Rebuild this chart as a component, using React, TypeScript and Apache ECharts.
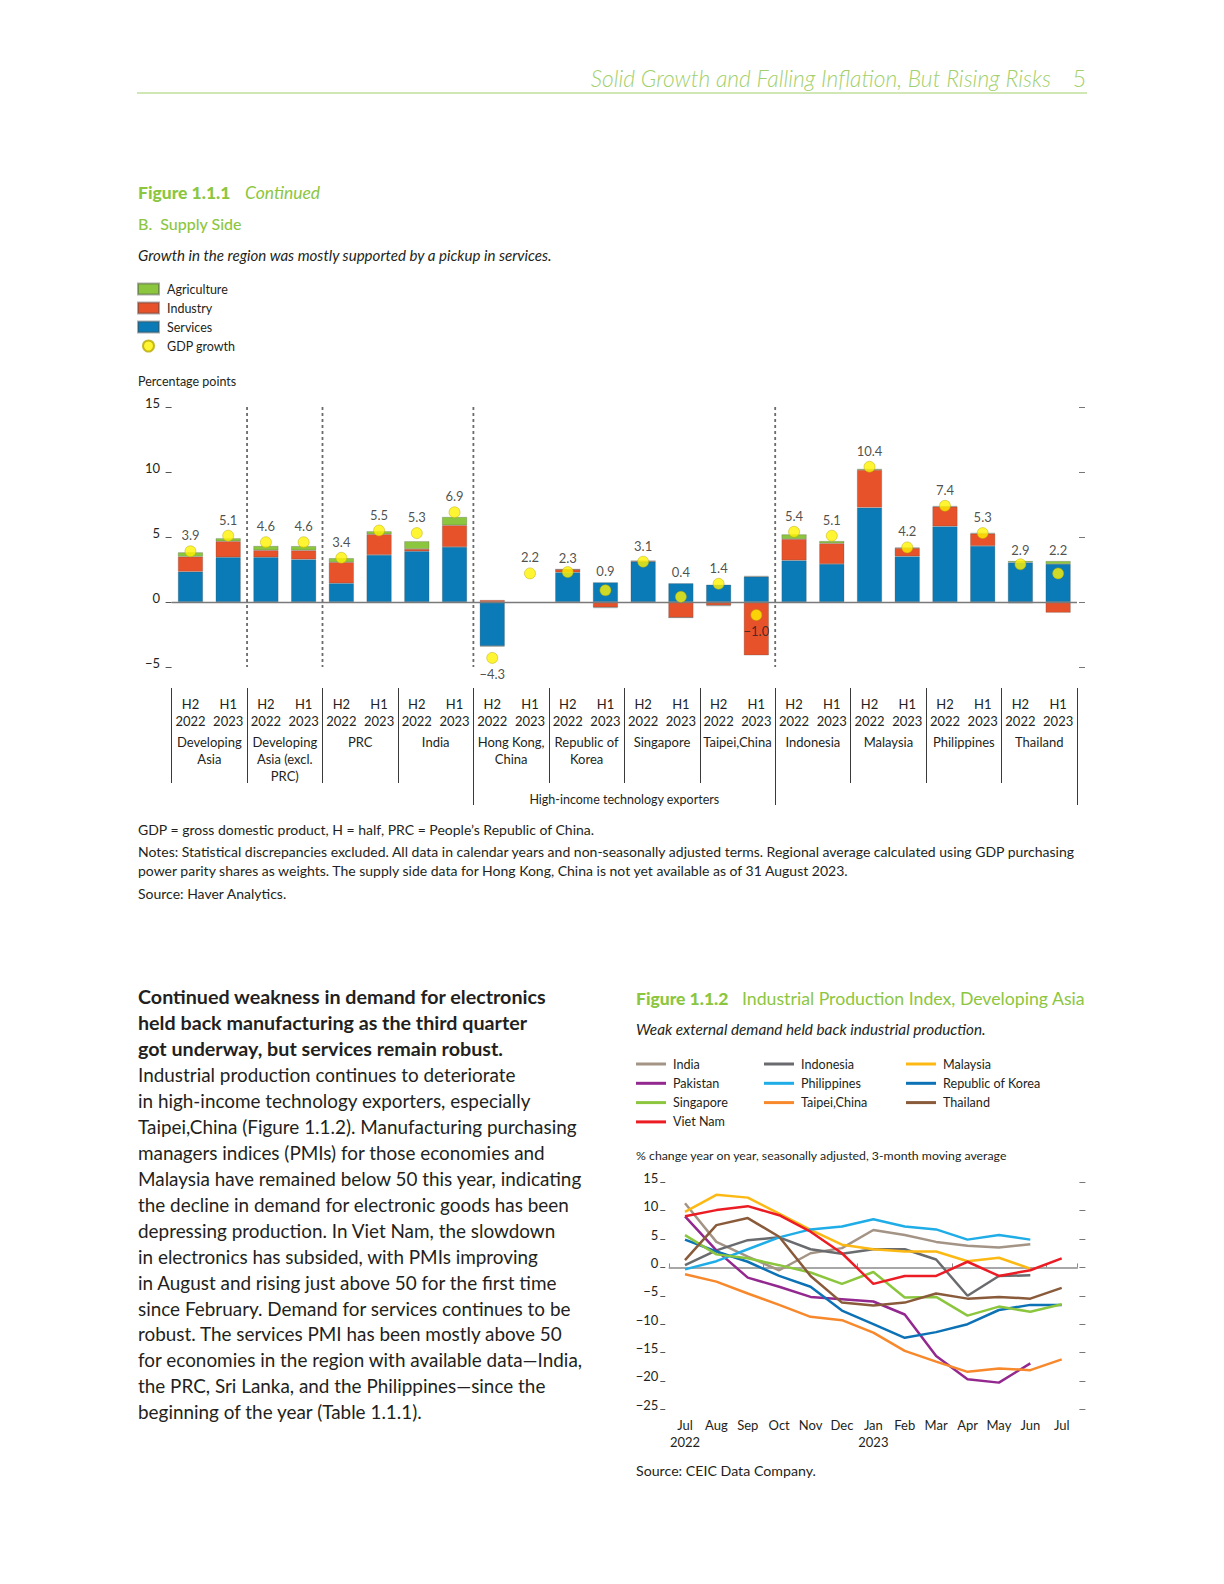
import React, { useEffect, useRef } from "react";
import * as echarts from "echarts";

// ---------- Figure 1.1.1 data ----------
const periods = [
  "H2\n2022", "H1\n2023", "H2\n2022", "H1\n2023", "H2\n2022", "H1\n2023",
  "H2\n2022", "H1\n2023", "H2\n2022", "H1\n2023", "H2\n2022", "H1\n2023",
  "H2\n2022", "H1\n2023", "H2\n2022", "H1\n2023", "H2\n2022", "H1\n2023",
  "H2\n2022", "H1\n2023", "H2\n2022", "H1\n2023", "H2\n2022", "H1\n2023",
];
const economies = [
  "Developing\nAsia", "Developing\nAsia (excl.\nPRC)", "PRC", "India",
  "Hong Kong,\nChina", "Republic of\nKorea", "Singapore", "Taipei,China",
  "Indonesia", "Malaysia", "Philippines", "Thailand",
];
const economyGroups = ["", "High-income technology exporters", ""];
const services = [2.33, 3.44, 3.44, 3.28, 1.44, 3.62, 3.9, 4.23, -3.38, null, 2.28, 1.51, 3.1, 1.44, 1.33, 1.95, 3.2, 2.92, 7.26, 3.51, 5.82, 4.31, 3.05, 2.92];
const industry = [1.16, 1.23, 0.54, 0.69, 1.62, 1.59, 0.18, 1.67, 0.15, null, 0.23, -0.41, 0.05, -1.2, -0.26, -4.1, 1.64, 1.59, 2.9, 0.64, 1.51, 0.95, -0.1, -0.82];
const agriculture = [0.33, 0.23, 0.33, 0.33, 0.31, 0.23, 0.59, 0.64, -0.05, null, 0, -0.05, 0, 0, -0.05, 0.05, 0.36, 0.18, 0.08, 0.03, 0.05, 0.05, 0.1, 0.23];
const gdpGrowth = [3.9, 5.1, 4.6, 4.6, 3.4, 5.5, 5.3, 6.9, -4.3, 2.2, 2.3, 0.9, 3.1, 0.4, 1.4, -1.0, 5.4, 5.1, 10.4, 4.2, 7.4, 5.3, 2.9, 2.2];
const separators = [2, 4, 8, 16];

// ---------- Figure 1.1.2 data ----------
const months = ["Jul\n2022", "Aug", "Sep", "Oct", "Nov", "Dec", "Jan\n2023", "Feb", "Mar", "Apr", "May", "Jun", "Jul"];
const india = [11.3, 4.5, 1.9, -0.5, 2.5, 3.4, 6.6, 5.7, 4.5, 3.8, 3.5, 4.1, null];
const indonesia = [0.4, 3.0, 4.8, 5.3, 3.2, 2.4, 3.2, 3.2, 1.4, -5.0, -1.5, -1.4, null];
const malaysia = [9.8, 12.8, 12.3, 9.5, 6.6, 4.0, 3.2, 2.8, 2.8, 1.1, 1.7, -0.2, null];
const pakistan = [9.0, 3.0, -1.8, -3.4, -5.2, -5.6, -6.0, -8.3, -15.6, -19.7, -20.3, -16.9, null];
const philippines = [-0.35, 1.1, 3.2, 5.3, 6.7, 7.2, 8.5, 7.2, 6.7, 4.9, 5.7, 4.9, null];
const korea = [4.9, 2.8, 1.0, -1.5, -3.4, -7.6, -10.0, -12.4, -11.4, -10.0, -7.5, -6.6, -6.6];
const singapore = [5.7, 2.3, 1.6, 0.4, -0.9, -2.9, -0.8, -5.3, -5.2, -8.5, -6.9, -7.8, -6.5];
const taipei = [-1.2, -2.5, -4.6, -6.6, -8.7, -9.3, -11.5, -14.7, -16.6, -18.4, -17.8, -18.1, -16.2];
const thailand = [1.3, 7.45, 8.7, 5.4, -1.5, -6.2, -6.7, -6.2, -4.6, -5.5, -5.2, -5.5, -3.6];
const vietnam = [9.0, 10.1, 10.8, 9.2, 6.3, 2.5, -2.9, -1.5, -1.5, 1.0, -1.5, -0.5, 1.6];

const lineSeries = [
  { name: "India", data: india, color: "#a39486" },
  { name: "Indonesia", data: indonesia, color: "#6a6b6e" },
  { name: "Malaysia", data: malaysia, color: "#fdb913" },
  { name: "Pakistan", data: pakistan, color: "#93288f" },
  { name: "Philippines", data: philippines, color: "#1fade8" },
  { name: "Republic of Korea", data: korea, color: "#0c72b5" },
  { name: "Singapore", data: singapore, color: "#8cc63f" },
  { name: "Taipei,China", data: taipei, color: "#f7892c" },
  { name: "Thailand", data: thailand, color: "#8a5b3b" },
  { name: "Viet Nam", data: vietnam, color: "#ec1c24" },
];

const FONT = "Lato";
const DARK = "#231f20";
const GREEN = "#8cc63f";
const LIGHTGREEN = "#a2d06c";
const minus = (v: any) => String(v).replace("-", "\u2212");

const paraHeading = [
  "Continued weakness in demand for electronics",
  "held back manufacturing as the third quarter",
  "got underway, but services remain robust.",
].join("\n");
const paraBody = [
  "Industrial production continues to deteriorate",
  "in high-income technology exporters, especially",
  "Taipei,China (Figure 1.1.2). Manufacturing purchasing",
  "managers indices (PMIs) for those economies and",
  "Malaysia have remained below 50 this year, indicating",
  "the decline in demand for electronic goods has been",
  "depressing production. In Viet Nam, the slowdown",
  "in electronics has subsided, with PMIs improving",
  "in August and rising just above 50 for the first time",
  "since February. Demand for services continues to be",
  "robust. The services PMI has been mostly above 50",
  "for economies in the region with available data\u2014India,",
  "the PRC, Sri Lanka, and the Philippines\u2014since the",
  "beginning of the year (Table 1.1.1).",
].join("\n");
const notes = [
  "GDP = gross domestic product, H = half, PRC = People\u2019s Republic of China.",
  "Notes: Statistical discrepancies excluded. All data in calendar years and non-seasonally adjusted terms. Regional average calculated using GDP purchasing",
  "power parity shares as weights. The supply side data for Hong Kong, China is not yet available as of 31 August 2023.",
  "Source: Haver Analytics.",
];

function txt(text: string, x: number, y: number, extra: any = {}) {
  return {
    type: "text",
    silent: true,
    style: {
      text, x, y,
      fontFamily: FONT, fontSize: 13, fill: DARK,
      align: "left", verticalAlign: "middle",
      ...extra,
    },
  };
}

export default function App() {
  const ref = useRef<HTMLDivElement>(null);
  useEffect(() => {
    if (!ref.current) return;
    const chart = echarts.init(ref.current, null, { renderer: "svg" });
    const axisLabelBase = { fontFamily: FONT, fontSize: 13, color: DARK };
    const barStyle = (color: string) => ({ color, borderColor: "rgba(70,70,70,0.45)", borderWidth: 0.6 });

    // label anchor: GDP value, lifted to the top of the positive stack when the dot sits inside a bar
    const labelAnchors = gdpGrowth.map((v, i) => {
      const top = [services[i], industry[i], agriculture[i]].reduce(
        (s: number, x: any) => s + (x != null && x > 0 ? x : 0), 0);
      const inside = v >= 0 && top > v + 0.15;
      return {
        value: inside ? top : v,
        name: minus(v.toFixed(1)),
        symbolSize: inside ? 1 : 11,
        label: { position: v < 0 ? "bottom" : "top" },
      };
    });

    const legendText = { fontFamily: FONT, fontSize: 12.6, lineHeight: 16, color: DARK, padding: [0, 0, 0, 2] };

    const option: any = {
      animation: false,
      textStyle: { fontFamily: FONT, color: DARK },
      grid: [
        { left: 171.6, right: 147, top: 407, bottom: 917 },
        { left: 669.3, right: 146.6, top: 1182.3, bottom: 174.7 },
      ],
      legend: [
        {
          orient: "vertical", left: 137, top: 281, padding: 0,
          itemWidth: 21, itemHeight: 11, itemGap: 3, selectedMode: false,
          textStyle: { ...legendText, fontSize: 12.5, padding: [0, 0, 0, 3] },
          data: [
            { name: "Agriculture", icon: "rect" },
            { name: "Industry", icon: "rect" },
            { name: "Services", icon: "rect" },
            { name: "GDP growth", icon: "circle" },
          ],
        },
        {
          orient: "vertical", left: 636, top: 1056, padding: 0,
          itemWidth: 30, itemHeight: 3, itemGap: 3.3, selectedMode: false,
          textStyle: legendText,
          data: ["India", "Pakistan", "Singapore", "Viet Nam"].map((n) => ({ name: n, icon: "rect" })),
        },
        {
          orient: "vertical", left: 764, top: 1056, padding: 0,
          itemWidth: 30, itemHeight: 3, itemGap: 3.3, selectedMode: false,
          textStyle: legendText,
          data: ["Indonesia", "Philippines", "Taipei,China"].map((n) => ({ name: n, icon: "rect" })),
        },
        {
          orient: "vertical", left: 906, top: 1056, padding: 0,
          itemWidth: 30, itemHeight: 3, itemGap: 3.3, selectedMode: false,
          textStyle: legendText,
          data: ["Malaysia", "Republic of Korea", "Thailand"].map((n) => ({ name: n, icon: "rect" })),
        },
      ],
      xAxis: [
        {
          type: "category", gridIndex: 0, data: periods, position: "bottom",
          axisLine: { show: false, onZero: false }, axisTick: { show: false },
          axisLabel: { ...axisLabelBase, interval: 0, margin: 28, lineHeight: 17 },
        },
        {
          type: "category", gridIndex: 0, data: economies, position: "bottom", offset: 21,
          axisLine: { show: false, onZero: false },
          axisTick: { show: true, interval: 0, length: 95, lineStyle: { color: "#3a3a3a", width: 1 } },
          axisLabel: { ...axisLabelBase, interval: 0, margin: 45.5, lineHeight: 17 },
        },
        {
          type: "category", gridIndex: 0, data: economyGroups, position: "bottom", offset: 116,
          axisLine: { show: false, onZero: false },
          axisTick: { show: true, interval: (i: number) => i > 0, length: 22, lineStyle: { color: "#3a3a3a", width: 1 } },
          axisLabel: { ...axisLabelBase, fontSize: 12.5, interval: 0, margin: 10 },
        },
        { type: "value", gridIndex: 0, min: 0, max: 24, show: false, position: "top" },
        {
          type: "category", gridIndex: 1, data: months, position: "bottom",
          axisLine: { show: true, onZero: true, lineStyle: { color: "#8a8a8a", width: 1.5 } },
          axisTick: { show: true, inside: true, interval: 2, length: 4, lineStyle: { color: "#8a8a8a", width: 1 } },
          axisLabel: { show: false },
        },
        {
          type: "category", gridIndex: 1, data: months, position: "bottom",
          axisLine: { show: false, onZero: false }, axisTick: { show: false },
          axisLabel: { ...axisLabelBase, interval: 0, margin: 7, lineHeight: 17 },
        },
      ],
      yAxis: [
        {
          type: "value", gridIndex: 0, min: -5, max: 15, interval: 5, position: "left", offset: 3,
          axisLine: { show: false }, splitLine: { show: false },
          axisTick: { show: true, length: 6, lineStyle: { color: "#555" } },
          axisLabel: { ...axisLabelBase, margin: 8.6, verticalAlign: "bottom", lineHeight: 9, formatter: minus },
        },
        {
          type: "value", gridIndex: 0, min: -5, max: 15, interval: 5, position: "right", offset: 2,
          axisLine: { show: false }, splitLine: { show: false },
          axisTick: { show: true, length: 6, lineStyle: { color: "#777" } }, axisLabel: { show: false },
        },
        {
          type: "value", gridIndex: 1, min: -25, max: 15, interval: 5, position: "left", offset: 4,
          axisLine: { show: false }, splitLine: { show: false },
          axisTick: { show: true, length: 5, lineStyle: { color: "#555" } },
          axisLabel: { ...axisLabelBase, margin: 7, verticalAlign: "bottom", lineHeight: 9, formatter: minus },
        },
        {
          type: "value", gridIndex: 1, min: -25, max: 15, interval: 5, position: "right", offset: 2,
          axisLine: { show: false }, splitLine: { show: false },
          axisTick: { show: true, length: 6, lineStyle: { color: "#777" } }, axisLabel: { show: false },
        },
      ],
      series: [
        {
          name: "Services", type: "bar", stack: "supply", xAxisIndex: 0, yAxisIndex: 0,
          data: services, barWidth: 25, itemStyle: barStyle("#0a7bb7"),
          markLine: {
            silent: true, symbol: "none", label: { show: false },
            lineStyle: { color: "#7a7a7a", width: 1.3, type: "solid" },
            data: [{ yAxis: 0 }],
          },
        },
        { name: "Industry", type: "bar", stack: "supply", xAxisIndex: 0, yAxisIndex: 0, data: industry, barWidth: 25, itemStyle: barStyle("#e8522a") },
        { name: "Agriculture", type: "bar", stack: "supply", xAxisIndex: 0, yAxisIndex: 0, data: agriculture, barWidth: 25, itemStyle: barStyle("#8cc63f") },
        {
          name: "GDP growth", type: "scatter", xAxisIndex: 0, yAxisIndex: 0, z: 5,
          data: gdpGrowth, symbolSize: 11,
          itemStyle: { color: "#fff200", borderColor: "#b8a900", borderWidth: 0.6 },
        },
        {
          name: "GDP growth labels", type: "scatter", xAxisIndex: 0, yAxisIndex: 0, z: 6, silent: true,
          data: labelAnchors,
          itemStyle: { color: "rgba(255,255,255,0)", borderWidth: 0 },
          label: {
            show: true, fontFamily: FONT, fontSize: 13, color: DARK, distance: 4,
            formatter: "{b}",
          },
        },
        {
          type: "custom", name: "separators", xAxisIndex: 3, yAxisIndex: 0, silent: true, z: 1,
          data: separators.map((s) => [s, 0]), encode: { x: 0, y: 1 },
          renderItem: (_params: any, api: any) => {
            const x = api.value(0);
            const a = api.coord([x, 15]);
            const b = api.coord([x, -5]);
            return {
              type: "line",
              shape: { x1: a[0], y1: a[1], x2: b[0], y2: b[1] },
              style: { stroke: "#6b6b6b", lineWidth: 1.8, lineDash: [3, 3] },
            };
          },
        },
        ...lineSeries.map((s) => ({
          name: s.name, type: "line", xAxisIndex: 4, yAxisIndex: 2, data: s.data,
          showSymbol: false, symbol: "none", connectNulls: false,
          lineStyle: { width: 2.5, color: s.color }, itemStyle: { color: s.color },
        })),
      ],
      graphic: [
        txt("Solid Growth and Falling Inflation, But Rising Risks", 1051, 78, { fontSize: 22.8, fontStyle: "italic", fontWeight: 300, fill: LIGHTGREEN, align: "right" }),
        txt("5", 1086, 78, { fontSize: 22.8, fontWeight: 300, fill: LIGHTGREEN, align: "right" }),
        { type: "line", silent: true, shape: { x1: 137, y1: 93, x2: 1087, y2: 93 }, style: { stroke: LIGHTGREEN, lineWidth: 1 } },
        txt("Figure 1.1.1", 138, 192, { fontSize: 17.5, fontWeight: 900, fill: GREEN }),
        txt("Continued", 245, 192, { fontSize: 17.5, fontStyle: "italic", fill: GREEN }),
        txt("B.  Supply Side", 138, 223, { fontSize: 16, fill: GREEN, fontWeight: 500 }),
        txt("Growth in the region was mostly supported by a pickup in services.", 138, 255, { fontSize: 15.1, fontStyle: "italic" }),
        txt("Percentage points", 138, 381, { fontSize: 12.5 }),
        txt(notes[0], 138, 829, { fontSize: 14 }),
        txt(notes[1], 138, 851, { fontSize: 14 }),
        txt(notes[2], 138, 870, { fontSize: 14 }),
        txt(notes[3], 138, 893, { fontSize: 14 }),
        txt(paraHeading, 138, 984, { fontSize: 19.7, fontWeight: "bold", lineHeight: 25.6, verticalAlign: "top" }),
        txt(paraBody, 138, 1062, { fontSize: 18.9, lineHeight: 25.9, verticalAlign: "top" }),
        txt("Figure 1.1.2", 636, 998, { fontSize: 17.5, fontWeight: 900, fill: GREEN }),
        txt("Industrial Production Index, Developing Asia", 742, 998, { fontSize: 17.7, fill: GREEN }),
        txt("Weak external demand held back industrial production.", 636, 1029, { fontSize: 15.3, fontStyle: "italic" }),
        txt("% change year on year, seasonally adjusted, 3-month moving average", 636, 1155, { fontSize: 12.3 }),
        txt("Source: CEIC Data Company.", 636, 1470, { fontSize: 14.2 }),
      ],
    };
    chart.setOption(option);
    return () => chart.dispose();
  }, []);
  return (
    <div
      ref={ref}
      style={{ position: "absolute", left: 0, top: 0, width: 1224, height: 1584, background: "#fff" }}
    />
  );
}
